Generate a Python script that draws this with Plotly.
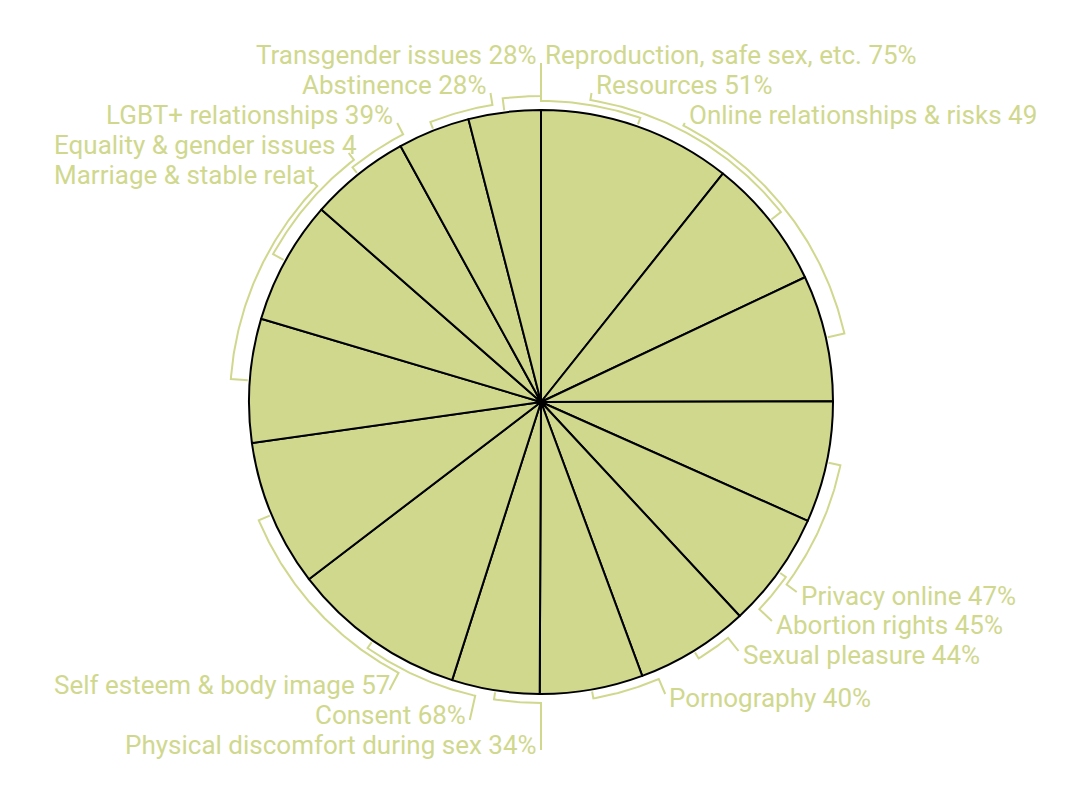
import math
import plotly.graph_objects as go

# ---------------- data ----------------
CATEGORIES = [
    "Reproduction, safe sex, etc.",
    "Resources",
    "Online relationships & risks",
    "Privacy online",
    "Abortion rights",
    "Sexual pleasure",
    "Pornography",
    "Physical discomfort during sex",
    "Consent",
    "Self esteem & body image",
    "Marriage & stable relationships",
    "Equality & gender issues",
    "LGBT+ relationships",
    "Abstinence",
    "Transgender issues",
]
VALUES = [75, 51, 49, 47, 45, 44, 40, 34, 68, 57, 48, 48, 39, 28, 28]

# label texts as they are visible in the picture (some are clipped there)
LABEL_TEXTS = [
    "Reproduction, safe sex, etc. 75%",
    "Resources 51%",
    "Online relationships & risks 49",
    "Privacy online 47%",
    "Abortion rights 45%",
    "Sexual pleasure 44%",
    "Pornography 40%",
    "Physical discomfort during sex 34%",
    "Consent 68%",
    "Self esteem & body image 57",
    "Marriage & stable relat",
    "Equality & gender issues 4",
    "LGBT+ relationships 39%",
    "Abstinence 28%",
    "Transgender issues 28%",
]

# ---------------- layout constants ----------------
W, H = 1086, 796           # page size
OFF = 8                    # page body margin
WF, HF = W - OFF, H - OFF  # figure size
CX, CY = 541, 402          # pie centre (page px)
R = 292                    # pie radius in px
R_TICK_IN = 294
R_ARC0 = 301
ARC_STEP = 5
R_LABEL = 321
LEFT_LIMIT = 52
LABEL_Y = [55, 85, 115, 596, 625, 655, 698, 745, 715, 685, 175, 145, 115, 85, 55]
COLOR = "#d0d88e"
FONT = "Roboto"
FONT_SIZE = 26


def pt(r, theta):
    t = math.radians(theta)
    return CX + r * math.sin(t), CY - r * math.cos(t)


total = float(sum(VALUES))
mids = []
acc = 0.0
for v in VALUES:
    a0 = acc / total * 360.0
    acc += v
    a1 = acc / total * 360.0
    mids.append((a0 + a1) / 2.0)

# label anchors
items = []
for i, (txt, m, yc) in enumerate(zip(LABEL_TEXTS, mids, LABEL_Y)):
    side = 1 if m < 180 else -1
    dy = yc - CY
    dx = math.sqrt(max(0.0, R_LABEL ** 2 - dy ** 2))
    xa = CX + side * dx
    if yc < CY:
        yend = yc + 8
    else:
        yend = yc - 4 if side == 1 else yc + 5
    ang = math.degrees(math.atan2(abs(xa - CX), -(yend - CY)))
    theta_l = ang if side == 1 else 360.0 - ang
    items.append(dict(i=i, side=side, xa=xa, yc=yc, yend=yend, tm=m, tl=theta_l))

# arc levels (avoid overlapping brackets)
order = sorted(range(len(items)), key=lambda k: -abs(items[k]["yc"] - CY))
placed = []
for k in order:
    it = items[k]
    lo, hi = sorted([it["tm"], it["tl"]])
    lvl = 0
    for (plo, phi, pl) in placed:
        for sh in (-360, 0, 360):
            if lo <= phi + sh + 0.5 and plo + sh <= hi + 0.5:
                lvl = max(lvl, pl + 1)
    it["lvl"] = lvl
    placed.append((lo, hi, lvl))

fig = go.Figure()

fig.add_trace(go.Pie(
    labels=CATEGORIES,
    values=VALUES,
    sort=False,
    direction="clockwise",
    rotation=0,
    textinfo="none",
    hole=0,
    marker=dict(colors=[COLOR] * len(VALUES), line=dict(color="black", width=2)),
    domain=dict(x=[(CX - R - OFF) / WF, (CX + R - OFF) / WF],
                y=[(H - CY - R) / HF, (H - CY + R) / HF]),
    showlegend=False,
    hovertemplate="%{label}: %{value}%<extra></extra>",
))

annotations = []
for it in items:
    ra = R_ARC0 + ARC_STEP * it["lvl"]
    xs, ys = [], []
    x0, y0 = pt(R_TICK_IN, it["tm"])
    xs.append(x0); ys.append(y0)
    n = max(2, int(abs(it["tl"] - it["tm"]) / 0.5) + 1)
    for j in range(n + 1):
        th = it["tm"] + (it["tl"] - it["tm"]) * j / n
        x1, y1 = pt(ra, th)
        xs.append(x1); ys.append(y1)
    xs.append(it["xa"]); ys.append(it["yend"])
    fig.add_trace(go.Scatter(x=xs, y=ys, mode="lines",
                             line=dict(color=COLOR, width=2),
                             hoverinfo="skip", showlegend=False))
    i = it["i"]
    full = f"{CATEGORIES[i]} {VALUES[i]}%"
    if it["side"] == 1:
        ax, anchor = it["xa"] + 2, "left"
    else:
        if LABEL_TEXTS[i] != full:
            ax, anchor = LEFT_LIMIT, "left"
        else:
            ax, anchor = it["xa"] - 2, "right"
    annotations.append(dict(
        x=ax, y=it["yc"], xref="x", yref="y", text=LABEL_TEXTS[i],
        showarrow=False, xanchor=anchor, yanchor="middle",
        font=dict(family=FONT, size=FONT_SIZE, color=COLOR),
    ))

fig.update_layout(
    width=WF, height=HF,
    margin=dict(l=0, r=0, t=0, b=0),
    paper_bgcolor="white", plot_bgcolor="rgba(0,0,0,0)",
    xaxis=dict(range=[OFF, W], visible=False, domain=[0, 1], fixedrange=True),
    yaxis=dict(range=[H, OFF], visible=False, domain=[0, 1], fixedrange=True),
    annotations=annotations,
    showlegend=False,
)

fig.write_html("out.html")
